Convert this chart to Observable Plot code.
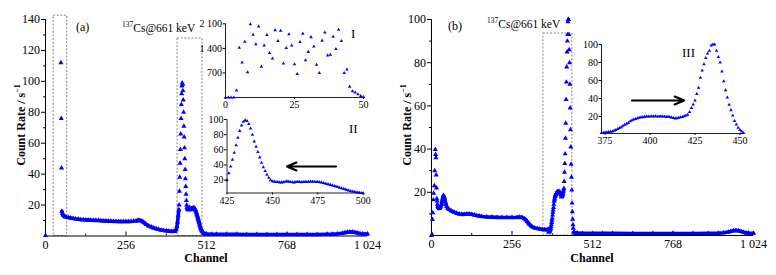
<!DOCTYPE html>
<html><head><meta charset="utf-8">
<script src="https://cdn.jsdelivr.net/npm/d3@7"></script>
<script src="https://cdn.jsdelivr.net/npm/@observablehq/plot@0.6"></script>
<style>
body{margin:0;background:#fff;}
#fig{position:relative;width:776px;height:275px;overflow:hidden;background:#fff;}
#fig svg{position:absolute;}
</style></head><body><div id="fig"></div>
<script>
// ---------- DATA ----------
const xTicksMain = [0, 256, 512, 768, 1024];
const xMinorMain = [128, 384, 640, 896];
const yTicksA = [20, 40, 60, 80, 100, 120, 140];
const yMinorA = [10, 30, 50, 70, 90, 110, 130];
const yTicksB = [20, 40, 60, 80, 100];
const yMinorB = [10, 30, 50, 70, 90];

// panel (a) main spectrum
const spikeACh = [0, 49, 50, 51];
const spikeAVal = [0.3, 112, 76, 44];
const contA1Ch = [52,54,56,60,64,72,80,88,96,104,112,120,128,136,144,152,160,168,176,184,192,200,208,216,224,232,240,248,256,264,272,280,288,292,296,300,304,308,312,316,320,328,336,344,352,360,368,376,384,392,400,408,412,416,418,420,422,424];
const contA1Val = [16,14.5,13.5,12.8,12.3,12,11.6,11.3,11,10.8,10.6,10.5,10.4,10.3,10.2,10.1,10,10,9.9,9.8,9.7,9.6,9.5,9.4,9.4,9.3,9.3,9.3,9.3,9.3,9.4,9.5,9.7,9.9,10,10,9.8,9.4,8.8,8.2,7.5,6.5,5.8,5.2,4.7,4.2,3.8,3.5,3.3,3.1,3,3,3.1,4,6,9,13,17];
const contA2Ch = [502,504,508,512,528,544,576,608,640,672,704,736,768,800,832,864,896,912,928,944,952,960,968,976,984,992,1000,1008,1016,1024];
const contA2Val = [1.8,1.4,1.2,1.2,1.1,1.1,1.1,1.1,1.0,1.0,1.0,1.0,1.0,1.0,1.0,1.0,1.1,1.2,1.4,1.8,2.1,2.4,2.6,2.6,2.3,1.9,1.5,1.3,1.2,1.2];

// inset I (channels 0-50)
const inset1Ch = d3.range(0, 51);
const inset1Val = [0,0,0,0,200,1420,1000,1590,720,2090,1790,1520,2020,880,1480,1780,1270,1110,1920,1610,1900,970,1410,1800,1480,950,670,1580,1820,1060,1300,1720,1450,930,700,1620,1850,1200,1220,1730,1380,1930,1610,700,800,310,180,140,90,45,15];

// inset II (channels 425-500), also the peak of panel (a)
const inset2Ch = d3.range(425, 501);
const inset2Val = [20,29,38,47,56,66,76,85,92,97,99,98,94,88,80,71,64,57,50,43,37,32,27,23,20,
  18.5,18,17.5,17.5,17,17,17.2,17.8,18.5,18,17.5,17.2,17,17.5,17.8,17.5,17.3,17.6,17.8,17.5,17.8,18.2,18,17.8,17.5,17.8,
  17.2,16.8,16.3,15.5,15,14.2,13.5,13,12.2,11.5,10.8,10,9.2,8.5,7.8,7,6.3,5.6,5,4.5,4,3.6,3.2,3,2.8];

// panel (b) main spectrum
const startBCh = [0,2,3,4,6,7,9,10,12,13,14,15,16,17,18,19];
const startBVal = [0,0.5,7.4,10.5,16.5,19.6,23,30,39.8,37.5,36,28,22,17,16,14.5];
const contB1Ch = [20,22,24,26,28,30,32,34,36,38,40,42,44,46,48,52,56,64,72,80,88,96,104,112,120,128,136,144,152,160,176,192,208,224,240,256,272,280,288,296,300,304,308,312,316,320,328,336,344,352,360,368,372];
const contB1Val = [13.5,13,12.5,12.5,13,13.5,14.5,16,17.5,18.5,18,17,15.5,14.5,13.5,12.5,12,11.3,10.8,10.3,10,9.8,9.8,10,10,9.8,9.5,9.2,9,8.8,8.6,8.5,8.4,8.3,8.3,8.3,8.4,8.5,8.3,7.8,7.2,6.5,5.8,5.1,4.5,4,3.5,3.2,3,2.8,2.7,2.7,2.8];
const contB2Ch = [454,456,460,464,480,512,544,576,640,704,768,832,880,912,928,944,952,960,968,976,984,992,1000,1008,1024];
const contB2Val = [1.3,1.2,1.1,1.1,1.0,1.0,1.0,1.0,0.9,0.9,0.9,0.9,1.0,1.1,1.3,1.6,1.9,2.2,2.3,2.2,1.9,1.5,1.2,1.1,1.0];

// inset III (channels 373-452), also the peak of panel (b)
const inset3Ch = d3.range(373, 453);
const inset3Val = [1.5,1.8,2,2.3,2.7,3,3.3,4,5,6,
  7,8,9.5,10.8,11.8,13,14.5,15.8,16.5,17.2,
  18,18.5,19,19.2,19.5,19.8,20,20,20.2,20,
  20.3,20,20,20.3,19.8,20,19.5,19.7,19.3,18.8,
  18.3,17.8,18,18.5,19,19.5,20.3,21,21.8,25,
  29.3,33.3,37.8,45,52,63,71,78,85,90,
  93,99,100,100,93,86,80,70,59,49,
  41,33,27,21,15,11,7.5,5,3.3,1.5];

// dotted zoom boxes (channel / count-rate extents)
const boxesA = [{x1: 26, x2: 69, y1: 0, y2: 142.5}, {x1: 420, x2: 499, y1: 0, y2: 127.7}];
const boxesB = [{x1: 356, x2: 448, y1: 0, y2: 93.5}];
// arrows in insets
const arrowII = [{x1: 485, x2: 458, y: 38}];
const arrowIII = [{x1: 390, x2: 419, y: 37.7}];

// ---------- HELPERS ----------
const blue = "#0000ff";
const zip = (c, v) => c.map((ch, i) => ({ch, v: v[i]}));
const fmt = d => { const s = String(d); return s.length > 3 ? s.slice(0, -3) + "\u00a0" + s.slice(-3) : s; };
const serif = "'Liberation Serif', 'Times New Roman', serif";
const fig = document.getElementById("fig");
function place(svg, left, top) { svg.style.left = left + "px"; svg.style.top = top + "px"; fig.appendChild(svg); }

function mainPlot({w, ml, mr, mt, mb, ymax, yMajor, yMinor, boxes, lines, dots}) {
  const innerH = 275 - mt - mb;
  return Plot.plot({
    width: w, height: 275, marginLeft: ml, marginRight: mr, marginTop: mt, marginBottom: mb,
    x: {domain: [0, 1024]}, y: {domain: [0, ymax]},
    style: {background: "transparent", fontFamily: serif, fontSize: "12px", color: "#000", overflow: "visible"},
    marks: [
      Plot.rect(boxes, {x1: "x1", x2: "x2", y1: "y1", y2: "y2", fill: "none", stroke: "#777", strokeWidth: 0.9, strokeDasharray: "2,1.6"}),
      Plot.ruleY([0], {stroke: "#000"}),
      Plot.ruleX([0], {stroke: "#000"}),
      Plot.tickX(xTicksMain, {insetTop: innerH - 4, stroke: "#000"}),
      Plot.tickX(xMinorMain, {insetTop: innerH - 2, stroke: "#000"}),
      ...lines.map(seg => Plot.line(seg, {x: "ch", y: "v", stroke: blue, strokeWidth: 3.6})),
      ...dots.map(seg => Plot.dot(seg, {x: "ch", y: "v", symbol: "triangle", r: 1.9, fill: blue})),
      Plot.axisY({ticks: yMajor, tickSize: 4, tickPadding: 1.5, label: null}),
      Plot.axisY({ticks: yMinor, tickSize: 2, tickFormat: () => "", label: null}),
      Plot.axisX({ticks: xTicksMain, tickSize: 0, tickPadding: 4, tickFormat: fmt, label: null})
    ]
  });
}

function insetPlot({w, h, ml, mr, mt, mb, xd, yd, xt, yt, data, extra = []}) {
  return Plot.plot({
    width: w, height: h, marginLeft: ml, marginRight: mr, marginTop: mt, marginBottom: mb,
    x: {domain: xd}, y: {domain: yd},
    style: {background: "transparent", fontFamily: serif, fontSize: "10px", color: "#000", overflow: "visible"},
    marks: [
      Plot.ruleY([yd[0]], {stroke: "#222"}),
      Plot.ruleX([xd[0]], {stroke: "#222"}),
      Plot.dot(data, {x: "ch", y: "v", symbol: "triangle", r: 1.3, fill: blue}),
      ...extra,
      Plot.axisY({ticks: yt, tickSize: 2.5, tickFormat: () => "", label: null}),
      Plot.text(yt, {y: d => d, text: d => fmt(d), frameAnchor: "left", textAnchor: "end", dx: -3.5, fontSize: 10}),
      Plot.axisX({ticks: xt, tickSize: 2, tickPadding: 1.5, label: null})
    ]
  });
}

// ---------- PANEL (a) ----------
place(mainPlot({
  w: 388, ml: 45, mr: 21, mt: 19, mb: 39.5, ymax: 140, yMajor: yTicksA, yMinor: yMinorA, boxes: boxesA,
  lines: [zip(contA1Ch, contA1Val), zip(contA2Ch, contA2Val)],
  dots: [zip(spikeACh, spikeAVal), zip(contA1Ch, contA1Val), zip(inset2Ch, inset2Val), zip(contA2Ch, contA2Val)]
}), 0, 0);

place(insetPlot({
  w: 185, h: 110, ml: 35, mr: 12, mt: 13.3, mb: 23, xd: [0, 50], yd: [0, 2100],
  xt: [0, 25, 50], yt: [700, 1400, 2100], data: zip(inset1Ch, inset1Val)
}), 190, 10);

place(insetPlot({
  w: 185, h: 110, ml: 36.5, mr: 12.3, mt: 11, mb: 25.5, xd: [425, 500], yd: [3, 100],
  xt: [425, 450, 475, 500], yt: [20, 40, 60, 80, 100], data: zip(inset2Ch, inset2Val),
  extra: [Plot.arrow(arrowII, {x1: "x1", x2: "x2", y1: "y", y2: "y", stroke: "#000", strokeWidth: 2.2, headLength: 7, headAngle: 45})]
}), 190, 108);

// ---------- PANEL (b) ----------
place(mainPlot({
  w: 388, ml: 43, mr: 23, mt: 19, mb: 40, ymax: 100, yMajor: yTicksB, yMinor: yMinorB, boxes: boxesB,
  lines: [zip(contB1Ch, contB1Val), zip(contB2Ch, contB2Val)],
  dots: [zip(startBCh, startBVal), zip(contB1Ch, contB1Val), zip(inset3Ch, inset3Val), zip(contB2Ch, contB2Val)]
}), 388, 0);

place(insetPlot({
  w: 196, h: 125, ml: 31, mr: 23, mt: 14, mb: 22, xd: [373, 452], yd: [1, 100],
  xt: [375, 400, 425, 450], yt: [20, 40, 60, 80, 100], data: zip(inset3Ch, inset3Val),
  extra: [Plot.arrow(arrowIII, {x1: "x1", x2: "x2", y1: "y", y2: "y", stroke: "#000", strokeWidth: 2.2, headLength: 7, headAngle: 45})]
}), 570, 30);

// ---------- TEXT OVERLAY ----------
const ov = d3.create("svg").attr("width", 776).attr("height", 275)
  .style("left", "0px").style("top", "0px").style("overflow", "visible")
  .attr("font-family", serif).attr("fill", "#000");

function simple(x, y, t, size = 12, weight = "normal", anchor = "start") {
  ov.append("text").attr("x", x).attr("y", y).attr("font-size", size).attr("font-weight", weight)
    .attr("text-anchor", anchor).text(t);
}
function cs(x, y) {
  const t = ov.append("text").attr("x", x).attr("y", y).attr("font-size", 11.5);
  t.append("tspan").attr("font-size", 7.5).attr("dy", -5).text("137");
  t.append("tspan").attr("dy", 5).text("Cs@661 keV");
}
function ytitle(x, y) {
  const t = ov.append("text").attr("transform", `translate(${x},${y}) rotate(-90)`)
    .attr("text-anchor", "middle").attr("font-size", 12).attr("font-weight", "bold");
  t.append("tspan").text("Count Rate / s");
  t.append("tspan").attr("font-size", 8).attr("dy", -5).text("\u22121");
}

simple(76, 31, "(a)");
cs(122, 32);
simple(448, 30, "(b)");
cs(487, 28);
simple(351, 38, "I", 13);
simple(349, 133, "II", 13);
simple(682, 57, "III", 13);
simple(206, 262, "Channel", 12, "bold", "middle");
simple(592, 262, "Channel", 12, "bold", "middle");
ytitle(25, 125);
ytitle(411, 125);

fig.appendChild(ov.node());
</script></body></html>
